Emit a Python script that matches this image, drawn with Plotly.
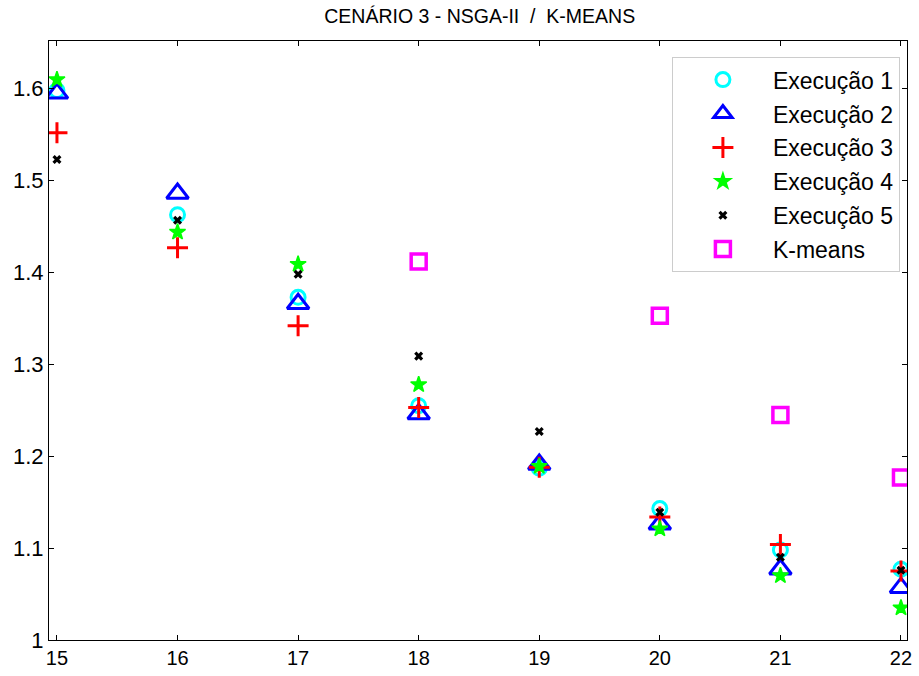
import plotly.graph_objects as go

x_vals = [15, 16, 17, 18, 19, 20, 21, 22]
exec1 = [1.598, 1.463, 1.373, 1.255, 1.187, 1.143, 1.098, 1.077]
exec2 = [1.595, 1.486, 1.366, 1.246, 1.191, 1.126, 1.077, 1.057]
exec3 = [1.552, 1.427, 1.342, 1.253, 1.188, 1.134, 1.104, 1.075]
exec4 = [1.610, 1.444, 1.409, 1.278, 1.189, 1.121, 1.070, 1.035]
exec5 = [1.523, 1.457, 1.398, 1.309, 1.227, 1.139, 1.090, 1.076]
kmeans_x = [18, 20, 21, 22]
kmeans = [1.412, 1.353, 1.245, 1.177]

y_ticks = [1.0, 1.1, 1.2, 1.3, 1.4, 1.5, 1.6]
y_ticktext = ["1", "1.1", "1.2", "1.3", "1.4", "1.5", "1.6"]

names = ["Execução 1", "Execução 2", "Execução 3", "Execução 4", "Execução 5", "K-means"]

fig = go.Figure()
fig.add_trace(go.Scatter(x=x_vals, y=exec1, mode="markers", name=names[0], legendgroup="a",
                         marker=dict(symbol="circle-open", size=14, color="#00FFFF", line=dict(width=3, color="#00FFFF"))))
fig.add_trace(go.Scatter(x=x_vals, y=exec2, mode="markers", name=names[1], legendgroup="b",
                         marker=dict(symbol="triangle-up-open", size=19, color="#0000FF", line=dict(width=3, color="#0000FF"))))
fig.add_trace(go.Scatter(x=x_vals, y=exec3, mode="markers", name=names[2], legendgroup="c",
                         marker=dict(symbol="cross-thin-open", size=15, color="#FF0000", line=dict(width=3, color="#FF0000"))))
fig.add_trace(go.Scatter(x=x_vals, y=exec4, mode="markers", name=names[3], legendgroup="d",
                         marker=dict(symbol="star", size=12, color="#00FF00", line=dict(width=1.5, color="#00FF00"))))
fig.add_trace(go.Scatter(x=x_vals, y=exec5, mode="markers", name=names[4], legendgroup="e",
                         marker=dict(symbol="x", size=8, color="#000000", line=dict(width=0))))
fig.add_trace(go.Scatter(x=kmeans_x, y=kmeans, mode="markers", name=names[5], legendgroup="f",
                         marker=dict(symbol="square-open", size=15, color="#FF00FF", line=dict(width=3.5, color="#FF00FF"))))

axis_common = dict(showline=True, linecolor="black", linewidth=1, mirror="ticks",
                   ticks="inside", ticklen=5, tickcolor="black", showgrid=False, zeroline=False)

fig.update_xaxes(range=[14.934, 22.05], tickvals=x_vals, ticktext=[str(v) for v in x_vals],
                 tickfont=dict(family="Liberation Sans, Arial", size=20, color="black"), **axis_common)
fig.update_yaxes(range=[1.0, 1.652], tickvals=y_ticks, ticktext=y_ticktext,
                 tickfont=dict(family="Liberation Sans, Arial", size=22, color="black"), **axis_common)

fig.update_layout(
    width=919, height=676,
    margin=dict(l=49, r=7, t=41, b=35),
    paper_bgcolor="white", plot_bgcolor="white",
    title=dict(text="CENÁRIO 3 - NSGA-II  /  K-MEANS", x=0.522, xanchor="center", y=0.976, yanchor="middle",
               font=dict(family="Liberation Sans, Arial", size=19.5, color="black")),
    legend=dict(x=0.726, y=0.973, xanchor="left", yanchor="top",
                bordercolor="#CCCCCC", borderwidth=1, bgcolor="white",
                font=dict(family="Liberation Sans, Arial", size=23, color="black"),
                tracegroupgap=1, itemwidth=90),
    showlegend=True,
)

fig.write_html("out.html")
